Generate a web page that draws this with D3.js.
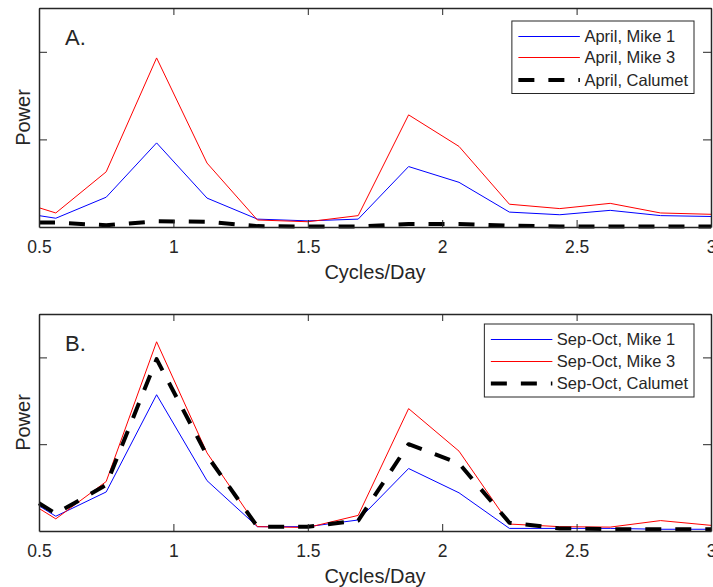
<!DOCTYPE html>
<html>
<head>
<meta charset="utf-8">
<script src="https://cdn.jsdelivr.net/npm/d3@7"></script>
<style>
body{margin:0;background:#fff;}
text{font-family:"Liberation Sans",Arial,Helvetica,sans-serif;fill:#262626;}
</style>
</head>
<body>
<svg id="viz" width="713" height="587"></svg>
<script>
// frequencies (cycles/day)
const freqs = [0.5,0.5625,0.75,0.9375,1.125,1.3125,1.5,1.6875,1.875,2.0625,2.25,2.4375,2.625,2.8125,3.0];

// panel A, April
const aprilMike1   = [0.13,0.10,0.34,0.96,0.33,0.09,0.07,0.09,0.69,0.51,0.17,0.14,0.19,0.13,0.12];
const aprilMike3   = [0.22,0.16,0.63,1.93,0.73,0.08,0.06,0.13,1.28,0.92,0.26,0.21,0.27,0.16,0.145];
const aprilCalumet = [0.05,0.05,0.02,0.065,0.06,0.01,0.005,0.005,0.035,0.035,0.015,0.005,0.005,0.005,0.005];

// panel B, Sep-Oct
const sepMike1   = [0.29,0.17,0.45,1.57,0.58,0.05,0.05,0.127,0.72,0.44,0.03,0.03,0.03,0.02,0.02];
const sepMike3   = [0.26,0.14,0.57,2.18,0.9,0.05,0.04,0.18,1.41,0.92,0.08,0.05,0.045,0.12,0.065];
const sepCalumet = [0.32,0.2,0.53,1.98,0.87,0.05,0.05,0.12,1.0,0.78,0.095,0.03,0.02,0.02,0.02];

const xTicks = [0.5,1,1.5,2,2.5,3];
const yTicks = [1,2];

const svg = d3.select("#viz");
const axisColor = "#262626";

function drawPanel(opt){
    const g = svg.append("g");
    const x = d3.scaleLinear().domain([0.5,3]).range([39,711]);
    const y = d3.scaleLinear().domain([0,2.5]).range([opt.bottom,opt.top]);

    const line = vals => d3.line()
        .x((d,i) => x(freqs[i]))
        .y(d => y(d))(vals);

    // series
    opt.series.forEach(s => {
        g.append("path")
            .attr("d", line(s.values))
            .attr("fill","none")
            .attr("stroke", s.color)
            .attr("stroke-width", s.width)
            .attr("stroke-dasharray", s.dash || null)
            .attr("stroke-linejoin","round");
    });

    // axes, box style with ticks inside
    const bottomAxis = d3.axisBottom(x).tickValues(xTicks).tickSizeInner(-7).tickSizeOuter(0).tickPadding(14).tickFormat(d3.format("~g"));
    const topAxis = d3.axisTop(x).tickValues(xTicks).tickSizeInner(-7).tickSizeOuter(0).tickFormat("");
    const leftAxis = d3.axisLeft(y).tickValues(yTicks).tickSizeInner(-8).tickSizeOuter(0).tickFormat("");
    const rightAxis = d3.axisRight(y).tickValues(yTicks).tickSizeInner(-8).tickSizeOuter(0).tickFormat("");

    const ab = g.append("g").attr("transform",`translate(0,${opt.bottom})`).call(bottomAxis);
    g.append("g").attr("transform",`translate(0,${opt.top})`).call(topAxis);
    g.append("g").attr("transform","translate(39,0)").call(leftAxis);
    g.append("g").attr("transform","translate(711,0)").call(rightAxis);

    g.selectAll(".domain").attr("stroke",axisColor).attr("stroke-width",1.5);
    g.selectAll(".tick line").attr("stroke",axisColor).attr("stroke-width",1);
    ab.selectAll(".tick text")
        .attr("font-size",17.5)
        .attr("font-family",'"Liberation Sans",Arial,sans-serif')
        .attr("fill",axisColor);

    // panel letter
    g.append("text").attr("x",65).attr("y",opt.top+37)
        .attr("font-size",22).text(opt.label);

    // axis titles
    g.append("text").attr("x",375).attr("y",opt.bottom+52)
        .attr("text-anchor","middle").attr("font-size",20).text("Cycles/Day");
    g.append("text")
        .attr("transform",`translate(30,${(opt.top+opt.bottom)/2}) rotate(-90)`)
        .attr("text-anchor","middle").attr("font-size",20).text("Power");

    // legend
    const lg = g.append("g");
    const right = 694;
    const rowY = opt.legendRows;
    const labels = opt.series.map((s,i) => lg.append("text")
        .attr("y", rowY[i]+5.5).attr("font-size",16.5).text(s.name));
    const maxW = d3.max(labels, t => t.node().getComputedTextLength());
    const textX = right - 6 - maxW;
    labels.forEach(t => t.attr("x", textX));
    const x0 = textX - 66, x1 = textX - 4.5;
    lg.insert("rect","text")
        .attr("x", x0-6.5).attr("y", rowY[0]-15.5)
        .attr("width", right-(x0-6.5)).attr("height", rowY[2]-rowY[0]+29)
        .attr("fill","#fff").attr("stroke",axisColor).attr("stroke-width",1);
    opt.series.forEach((s,i) => {
        lg.append("line")
            .attr("x1",x0).attr("x2",x1)
            .attr("y1",rowY[i]).attr("y2",rowY[i])
            .attr("stroke",s.color).attr("stroke-width",s.width)
            .attr("stroke-dasharray",s.dash || null);
    });
}

drawPanel({
    top:8, bottom:227, label:"A.",
    legendRows:[36.5,57.5,80],
    series:[
        {name:"April, Mike 1", values:aprilMike1, color:"#0000ff", width:1},
        {name:"April, Mike 3", values:aprilMike3, color:"#ff0000", width:1},
        {name:"April, Calumet", values:aprilCalumet, color:"#000", width:4, dash:"16,14"}
    ]
});

drawPanel({
    top:314, bottom:531, label:"B.",
    legendRows:[339.5,361.5,383.5],
    series:[
        {name:"Sep-Oct, Mike 1", values:sepMike1, color:"#0000ff", width:1},
        {name:"Sep-Oct, Mike 3", values:sepMike3, color:"#ff0000", width:1},
        {name:"Sep-Oct, Calumet", values:sepCalumet, color:"#000", width:4, dash:"16,14"}
    ]
});
</script>
</body>
</html>
